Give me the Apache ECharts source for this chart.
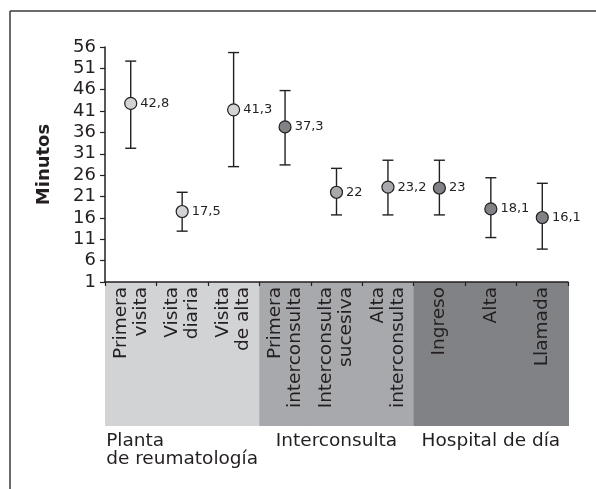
<!DOCTYPE html>
<html>
<head>
<meta charset="utf-8">
<script src="https://cdn.jsdelivr.net/npm/echarts@6/dist/echarts.min.js"></script>
<style>
    html, body { margin: 0; padding: 0; background: #fff; }
    #chart { width: 596px; height: 489px; }
</style>
</head>
<body>
<div id="chart"></div>
<script>
    // categorias y valores (minutos)
    var categories = ['Primera\nvisita', 'Visita\ndiaria', 'Visita\nde alta', 'Primera\ninterconsulta',
        'Interconsulta\nsucesiva', 'Alta\ninterconsulta', 'Ingreso', 'Alta', 'Llamada']
    var means = [42.8, 17.5, 41.3, 37.3, 22, 23.2, 23, 18.1, 16.1]
    var lower = [32.3, 12.9, 28.0, 28.4, 16.7, 16.7, 16.7, 11.4, 8.7]
    var upper = [52.7, 22.0, 54.7, 45.8, 27.6, 29.5, 29.5, 25.4, 24.1]
    var groups = ['Planta\nde reumatología', 'Interconsulta', 'Hospital de día']
    var groupOf = [0, 0, 0, 1, 1, 1, 2, 2, 2]
    var markerShade = [0, 0, 0, 2, 1, 1, 2, 2, 2]
    var bandFill = [1, 1, 1, 1, 1, 1, 1, 1, 1]
    var yTicks = {min: 1, max: 56, step: 5}

    var shades = ['#d1d3d4', '#a7a9ac', '#808285']
    var ink = '#231f20'
    var font = 'DejaVu Sans'

    var myChart = echarts.init(document.getElementById('chart'))

    var errData = []
    var bandData = []
    for (let i = 0; i < categories.length; i++) {
        errData.push([i, lower[i], upper[i]])
        bandData.push([i, bandFill[i], groupOf[i]])
    }

    myChart.setOption({
        animation: false,
        textStyle: {fontFamily: font, color: ink},
        grid: [
            {left: 105, right: 28, top: 47, height: 235},
            {left: 105, right: 28, top: 282, height: 144}
        ],
        xAxis: [
            {
                gridIndex: 0,
                type: 'category',
                data: categories,
                z: 10,
                axisLine: {lineStyle: {color: ink, width: 1.5}},
                axisTick: {show: true, length: 4, lineStyle: {color: ink, width: 1.2}},
                axisLabel: {
                    interval: 0,
                    rotate: 90,
                    margin: 5,
                    fontFamily: font,
                    fontSize: 18.5,
                    lineHeight: 20,
                    color: ink
                },
                splitLine: {show: false}
            },
            {
                gridIndex: 1,
                type: 'category',
                data: categories,
                show: false
            },
            {
                gridIndex: 1,
                type: 'category',
                data: groups,
                position: 'bottom',
                axisLine: {show: false},
                axisTick: {show: false},
                axisLabel: {
                    interval: 0,
                    margin: 6,
                    fontFamily: font,
                    fontSize: 18.5,
                    lineHeight: 18,
                    color: ink,
                    formatter: function (v, i) {
                        if (i === 0) {
                            return '{l|' + v.split('\n').join('}\n{l|') + '}'
                        }
                        return v
                    },
                    rich: {
                        l: {width: 152, align: 'left', fontFamily: font, fontSize: 18.5, lineHeight: 18, color: ink}
                    }
                }
            }
        ],
        yAxis: [
            {
                gridIndex: 0,
                type: 'value',
                min: yTicks.min,
                max: yTicks.max,
                interval: yTicks.step,
                name: 'Minutos',
                nameLocation: 'middle',
                nameRotate: 90,
                nameGap: 52,
                nameTextStyle: {fontFamily: font, fontSize: 18, fontWeight: 'bold', color: ink},
                axisLine: {show: true, lineStyle: {color: ink, width: 1.5}},
                axisTick: {show: true, length: 5, lineStyle: {color: ink, width: 1.2}},
                axisLabel: {fontFamily: font, fontSize: 18, color: ink, margin: 9},
                splitLine: {show: false}
            },
            {
                gridIndex: 1,
                type: 'value',
                min: 0,
                max: 1,
                show: false
            }
        ],
        graphic: [
            {type: 'line', shape: {x1: 10, y1: 11, x2: 596, y2: 11}, style: {stroke: '#3a3a3a', lineWidth: 1.5}},
            {type: 'line', shape: {x1: 10, y1: 11, x2: 10, y2: 489}, style: {stroke: '#3a3a3a', lineWidth: 1.5}}
        ],
        series: [
            {
                // franjas de grupo bajo el eje
                type: 'custom',
                xAxisIndex: 1,
                yAxisIndex: 1,
                data: bandData,
                silent: true,
                z: 1,
                renderItem: function (params, api) {
                    var top = api.coord([api.value(0), api.value(1)])
                    var bot = api.coord([api.value(0), 0])
                    var w = api.size([1, 0])[0]
                    return {
                        type: 'rect',
                        shape: {x: top[0] - w / 2, y: top[1], width: w + 1, height: bot[1] - top[1]},
                        style: {fill: shades[api.value(2)]}
                    }
                }
            },
            {
                // barras de error
                type: 'custom',
                xAxisIndex: 0,
                yAxisIndex: 0,
                data: errData,
                z: 3,
                renderItem: function (params, api) {
                    var lo = api.coord([api.value(0), api.value(1)])
                    var hi = api.coord([api.value(0), api.value(2)])
                    var hw = 5.5
                    var st = {stroke: ink, lineWidth: 1.4}
                    return {
                        type: 'group',
                        children: [
                            {type: 'line', shape: {x1: hi[0], y1: hi[1], x2: lo[0], y2: lo[1]}, style: st},
                            {type: 'line', shape: {x1: hi[0] - hw, y1: hi[1], x2: hi[0] + hw, y2: hi[1]}, style: st},
                            {type: 'line', shape: {x1: lo[0] - hw, y1: lo[1], x2: lo[0] + hw, y2: lo[1]}, style: st}
                        ]
                    }
                }
            },
            {
                type: 'scatter',
                xAxisIndex: 0,
                yAxisIndex: 0,
                data: means,
                symbol: 'circle',
                symbolSize: 12,
                z: 4,
                itemStyle: {
                    color: function (p) {
                        return shades[markerShade[p.dataIndex]]
                    },
                    borderColor: ink,
                    borderWidth: 1.2,
                    opacity: 1
                },
                label: {
                    show: true,
                    position: 'right',
                    distance: 3,
                    fontFamily: font,
                    fontSize: 13,
                    color: ink,
                    formatter: function (p) {
                        return String(p.value).replace('.', ',')
                    }
                }
            }
        ]
    })
    window.onresize = myChart.resize
</script>
</body>
</html>
